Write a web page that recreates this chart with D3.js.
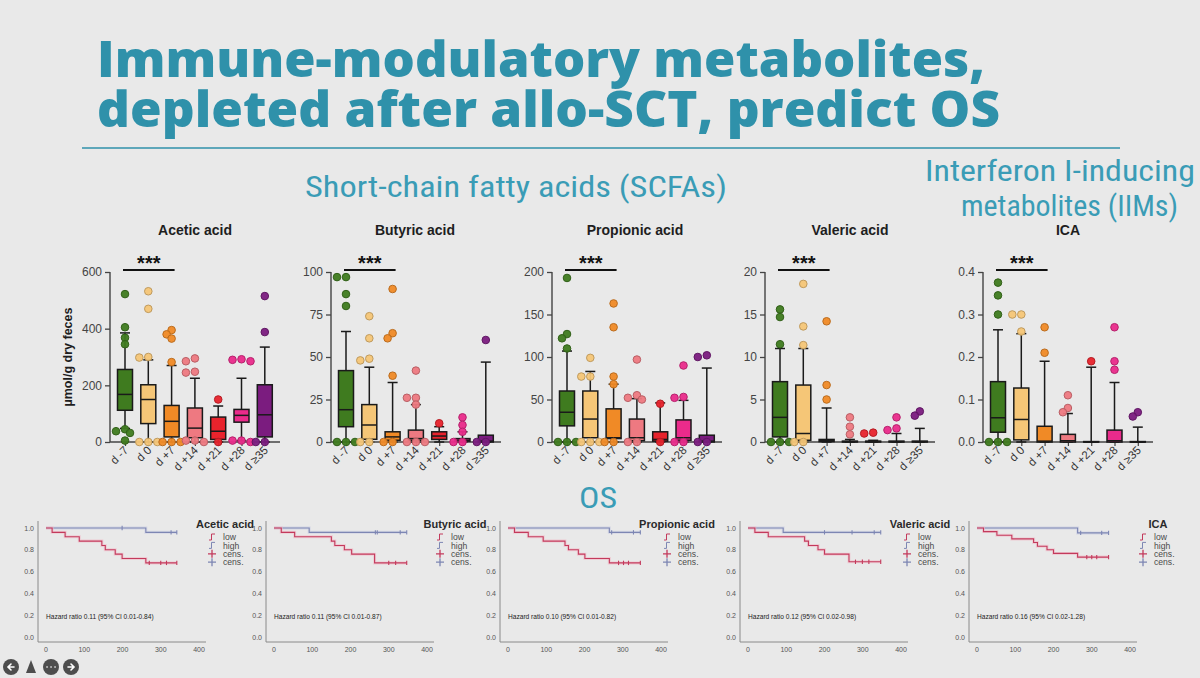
<!DOCTYPE html>
<html><head><meta charset="utf-8">
<script src="https://cdn.jsdelivr.net/npm/d3@7"></script>
<style>
body{margin:0;background:#e9e9e9;}
svg{display:block;font-family:Arial,'Liberation Sans',sans-serif;}
</style>
</head><body><svg id="c" width="1200" height="678"></svg>
<script>
// ---------- data ----------
const categories = ["d -7","d 0","d +7","d +14","d +21","d +28","d \u226535"];
const catColors = ["#3f7b1f","#f5c677","#f08a26","#ee7981","#e8232c","#ea2b8b","#7b1c7f"];
const metabolites = ["Acetic acid","Butyric acid","Propionic acid","Valeric acid","ICA"];
const yMaxes = [600,100,200,20,0.4];
const yTickVals = [[0,200,400,600],[0,25,50,75,100],[0,50,100,150,200],[0,5,10,15,20],[0,0.1,0.2,0.3,0.4]];
const yTickFormats = ["d","d","d","d",".1f"];

// box stats per category: [whiskerLow, q1, median, q3, whiskerHigh]
const aceticBoxes = [[48,112,168,256,385],[0,65,150,202,290],[0,18,73,129,270],[0,15,49,120,225],[0,9,38,88,127],[5,70,94,115,225],[0,18,96,202,335]];
const butyricBoxes = [[0,9,19,42,65],[0,1.6,10,22,44],[0,1,3,6,35],[0,1,2,7,22],[0,1.5,3.5,6,9],[0,0.5,1,2,6],[0,0,0.5,4,47]];
const propionicBoxes = [[0,19,35,60,107],[0,5,27,60,83],[0,4,5,39,68],[0,1.5,5,27,51],[0,1,3,12,46],[0,2,5,26,49],[0,0,1,8,87]];
const valericBoxes = [[0,0.6,2.9,7.1,11],[0,0.2,1,6.7,11],[0,0.05,0.2,0.3,4],[0,0,0.05,0.1,0.3],[0,0,0.05,0.1,0.2],[0,0,0.05,0.1,1.0],[0,0,0.05,0.1,1.6]];
const icaBoxes = [[0,0.023,0.057,0.142,0.264],[0,0.005,0.053,0.127,0.255],[0,0,0.002,0.037,0.19],[0,0,0.003,0.018,0.067],[0,0,0,0.001,0.176],[0,0,0.003,0.028,0.14],[0,0,0,0.001,0.035]];

// individual points drawn per category
const aceticPts = [[522,405,368,345,45,38,32,5],[532,470,300,298,0,0,0],[395,380,365,282,0,0,0],[295,285,248,245,5,5,0],[150,0],[290,285,292,5,5,0],[515,388,0,0]];
const butyricPts = [[97,97,87,80,0,0,0],[74,61,49,48,0,0],[90,64,61,39,0,0],[42,26,26,22,0,0,0],[11],[14.5,10,6,0,0],[60,0,0]];
const propionicPts = [[193,127,122,110,0,0,0],[99,77,77,0,0,0],[163,135,77,68,0,0],[97,55,52,50,0,0],[45,0],[90,53,52,0,0],[100,102,0,0]];
const valericPts = [[15.6,14.7,11.5,0,0,0],[18.6,13.6,11.4,0,0],[14.2,6.7,5],[2.9,1.8,0.9],[1.1,1.0],[2.9,1.6,1.4],[3.1,3.6]];
const icaPts = [[0.375,0.345,0.3,0,0,0],[0.3,0.3,0.26],[0.27,0.21],[0.11,0.08,0.07],[0.19],[0.27,0.19,0.17],[0.06,0.07]];

const allBoxes = [aceticBoxes,butyricBoxes,propionicBoxes,valericBoxes,icaBoxes];
const allPts = [aceticPts,butyricPts,propionicPts,valericPts,icaPts];

// Kaplan-Meier (OS): steps [time, survival after event], end time, censor times
const kmLowSteps = [
  [[16,0.96],[50,0.92],[87,0.88],[146,0.84],[155,0.80],[181,0.76],[199,0.72],[261,0.68]],
  [[19,0.96],[54,0.92],[150,0.88],[159,0.84],[184,0.80],[203,0.76],[263,0.68]],
  [[17,0.96],[53,0.92],[92,0.88],[149,0.84],[158,0.80],[184,0.76],[201,0.72],[265,0.68]],
  [[18,0.96],[53,0.92],[148,0.88],[158,0.84],[183,0.80],[200,0.76],[264,0.69]],
  [[17,0.967],[52,0.933],[91,0.90],[148,0.867],[158,0.833],[183,0.80],[200,0.767],[263,0.733]]
];
const kmLowEnd = [342,347,346,347,344];
const kmLowCens = [[270,300,315,342],[300,318,347],[289,302,315,346],[281,299,316,347],[287,300,313,344]];
const kmHighSteps = [[[261,0.96]],[[92,0.96]],[[265,0.96]],[[92,0.96]],[[263,0.955]]];
const kmHighEnd = [342,347,346,347,344];
const kmHighCens = [[199,327,342],[265,270,330,347],[271,328,346],[200,272,330,347],[271,326,344]];
const hazardTexts = [
  "Hazard ratio 0.11 (95% CI 0.01-0.84)",
  "Hazard ratio 0.11 (95% CI 0.01-0.87)",
  "Hazard ratio 0.10 (95% CI 0.01-0.82)",
  "Hazard ratio 0.12 (95% CI 0.02-0.98)",
  "Hazard ratio 0.16 (95% CI 0.02-1.28)"
];
const kmTitles = ["Acetic acid","Butyric acid","Propionic acid","Valeric acid","ICA"];
const legendLabels = ["low","high","cens.","cens."];
const kmXTicks = [0,100,200,300,400];
const kmYTicks = [0,0.2,0.4,0.6,0.8,1.0];

// ---------- layout ----------
const svg = d3.select("#c");
const teal = "#2f91aa", tealLight = "#3a9cb6";
svg.append("rect").attr("width",1200).attr("height",678).attr("fill","#e9e9e9");

// title
const tf = "'Open Sans','DejaVu Sans',sans-serif";
svg.append("text").attr("x",97).attr("y",77).attr("font-family",tf).attr("font-weight",800)
  .attr("font-size",50).attr("fill",teal).attr("textLength",888).attr("lengthAdjust","spacingAndGlyphs")
  .text("Immune-modulatory metabolites,");
svg.append("text").attr("x",97).attr("y",127).attr("font-family",tf).attr("font-weight",800)
  .attr("font-size",50).attr("fill",teal).attr("textLength",903).attr("lengthAdjust","spacingAndGlyphs")
  .text("depleted after allo-SCT, predict OS");
svg.append("line").attr("x1",82).attr("x2",1120).attr("y1",148).attr("y2",148)
  .attr("stroke",teal).attr("stroke-width",1.5);

const nf = "'Liberation Sans Narrow','Roboto Condensed',Roboto,sans-serif";
function sub(x,y,len,txt,size){
  svg.append("text").attr("x",x).attr("y",y).attr("font-family",nf).attr("font-size",size||29)
    .attr("fill",tealLight).attr("textLength",len).attr("lengthAdjust","spacingAndGlyphs").text(txt);
}
sub(305,197,422,"Short-chain fatty acids (SCFAs)");
sub(925,181,270,"Interferon I-inducing");
sub(961,216,217,"metabolites (IIMs)");
sub(579,508,38,"OS");

// ---------- box plots ----------
const axisXs = [110,331,552,765,983];
const titleXs = [195,415,635,850,1068];
const yTop = 272, yBot = 442;

function swarm(vals, y, cx, r){
  const placed=[];
  const cands=[0,-5,5,-9,9,-12,12];
  return vals.slice().sort((a,b)=>b-a).map(v=>{
    const py=y(v);
    let best=cands[cands.length-1];
    for(const o of cands){
      if(placed.every(p=>Math.hypot(p.x-o,p.y-py)>=r*1.55)){best=o;break;}
    }
    placed.push({x:best,y:py});
    return {v,x:cx+best,y:py};
  });
}

metabolites.forEach((m,mi)=>{
  const ax = axisXs[mi];
  const g = svg.append("g");
  const x = d3.scalePoint().domain(categories).range([ax+15, ax+15+6*23.3]);
  const y = d3.scaleLinear().domain([0,yMaxes[mi]]).range([yBot,yTop]);

  g.append("text").attr("x",titleXs[mi]).attr("y",235).attr("text-anchor","middle")
    .attr("font-weight","bold").attr("font-size",14).attr("fill","#1e1e1e").text(m);

  const ya = g.append("g").attr("transform",`translate(${ax},0)`)
    .call(d3.axisLeft(y).tickValues(yTickVals[mi]).tickFormat(d3.format(yTickFormats[mi])).tickSize(5).tickPadding(3));
  ya.select(".domain").remove();
  ya.selectAll("line").attr("stroke","#444").attr("stroke-width",1.3);
  ya.selectAll("text").attr("font-size",12).attr("fill","#444").attr("font-family","Arial,'Liberation Sans',sans-serif");
  g.append("line").attr("x1",ax).attr("x2",ax).attr("y1",yTop).attr("y2",yBot).attr("stroke","#444").attr("stroke-width",1.4);
  g.append("line").attr("x1",ax).attr("x2",ax+170).attr("y1",yBot).attr("y2",yBot).attr("stroke","#444").attr("stroke-width",1.4);
  const xa = g.append("g").attr("transform",`translate(0,${yBot})`).call(d3.axisBottom(x).tickSize(4).tickFormat(""));
  xa.select(".domain").remove();
  xa.selectAll("line").attr("stroke","#444").attr("stroke-width",1.2);
  categories.forEach(c=>{
    g.append("text").attr("transform",`translate(${x(c)+4},${yBot+9}) rotate(-45)`)
      .attr("text-anchor","end").attr("font-size",11.5).attr("fill","#333").text(c);
  });

  if(mi===0){
    g.append("text").attr("transform",`translate(72,${(yTop+yBot)/2}) rotate(-90)`).attr("text-anchor","middle")
      .attr("font-weight","bold").attr("font-size",12.5).attr("fill","#1e1e1e").text("\u00b5mol/g dry feces");
  }

  const x0 = x(categories[0])-2, x1 = x(categories[2])+3;
  g.append("line").attr("x1",x0).attr("x2",x1).attr("y1",270).attr("y2",270).attr("stroke","#111").attr("stroke-width",2.2);
  g.append("text").attr("x",(x0+x1)/2).attr("y",270).attr("text-anchor","middle").attr("font-weight","bold")
    .attr("font-size",20).attr("fill","#111").text("***");

  const bw = 15, cw = 10;
  allBoxes[mi].forEach((b,ci)=>{
    const cx = x(categories[ci]);
    const [wl,q1,md,q3,wh] = b;
    g.append("line").attr("x1",cx).attr("x2",cx).attr("y1",y(wl)).attr("y2",y(wh)).attr("stroke","#1a1a1a").attr("stroke-width",1.5);
    g.append("line").attr("x1",cx-cw/2).attr("x2",cx+cw/2).attr("y1",y(wh)).attr("y2",y(wh)).attr("stroke","#1a1a1a").attr("stroke-width",1.5);
    g.append("line").attr("x1",cx-cw/2).attr("x2",cx+cw/2).attr("y1",y(wl)).attr("y2",y(wl)).attr("stroke","#1a1a1a").attr("stroke-width",1.5);
    g.append("rect").attr("x",cx-bw/2).attr("width",bw).attr("y",y(q3)).attr("height",Math.max(0.5,y(q1)-y(q3)))
      .attr("fill",catColors[ci]).attr("stroke","#1a1a1a").attr("stroke-width",1.5);
    g.append("line").attr("x1",cx-bw/2).attr("x2",cx+bw/2).attr("y1",y(md)).attr("y2",y(md)).attr("stroke","#1a1a1a").attr("stroke-width",1.5);
  });
  allPts[mi].forEach((pts,ci)=>{
    const cx = x(categories[ci]);
    const col = catColors[ci];
    swarm(pts,y,cx,3.8).forEach(p=>{
      g.append("circle").attr("cx",p.x).attr("cy",p.y).attr("r",3.8).attr("fill",col)
        .attr("stroke",d3.color(col).darker(0.7)).attr("stroke-width",1).attr("fill-opacity",0.95);
    });
  });
});

// ---------- Kaplan-Meier panels ----------
const kmX0s = [46,274,508,748,977];
const kmTitleXs = [225,455,677,920,1158];
const kmLegX = [212,440,667,907,1143];
const lowCol = "#c33a5c", highCol = "#7d86b3";

function survAt(steps,t){let s=1;steps.forEach(([tt,v])=>{if(tt<=t)s=v;});return s;}

kmTitles.forEach((tt,ki)=>{
  const g = svg.append("g");
  const x0 = kmX0s[ki];
  const x = d3.scaleLinear().domain([0,400]).range([x0,x0+153]);
  const y = d3.scaleLinear().domain([0,1]).range([637,528]);
  const axX = x0-8;
  g.append("line").attr("x1",axX).attr("x2",axX).attr("y1",521).attr("y2",642).attr("stroke","#8a8a8a").attr("stroke-width",1);
  g.append("line").attr("x1",axX).attr("x2",x0+160).attr("y1",642).attr("y2",642).attr("stroke","#8a8a8a").attr("stroke-width",1);
  kmYTicks.forEach(v=>{
    g.append("text").attr("x",axX-4).attr("y",y(v)+2.5).attr("text-anchor","end").attr("font-size",7).attr("fill","#555").text(d3.format(".1f")(v));
  });
  kmXTicks.forEach(v=>{
    g.append("text").attr("x",x(v)).attr("y",652).attr("text-anchor","middle").attr("font-size",7).attr("fill","#555").text(v);
  });
  g.append("text").attr("x",x0).attr("y",619).attr("font-size",6.6).attr("fill","#222").text(hazardTexts[ki]);

  const line = d3.line().x(d=>x(d[0])).y(d=>y(d[1])).curve(d3.curveStepAfter);
  function drawCurve(steps,end,cens,col,halo){
    const pts = [[0,1],...steps,[end,steps[steps.length-1][1]]];
    g.append("path").attr("d",line(pts)).attr("fill","none").attr("stroke",halo).attr("stroke-width",3).attr("stroke-opacity",0.6);
    g.append("path").attr("d",line(pts)).attr("fill","none").attr("stroke",col).attr("stroke-width",1.1);
    cens.forEach(t=>{
      const s = survAt(steps,t);
      g.append("line").attr("x1",x(t)).attr("x2",x(t)).attr("y1",y(s)-2.2).attr("y2",y(s)+2.2).attr("stroke",col).attr("stroke-width",1.1);
    });
  }
  drawCurve(kmHighSteps[ki],kmHighEnd[ki],kmHighCens[ki],highCol,"#c9cde2");
  drawCurve(kmLowSteps[ki],kmLowEnd[ki],kmLowCens[ki],lowCol,"#f1b9c6");

  g.append("text").attr("x",kmTitleXs[ki]).attr("y",528).attr("text-anchor","middle").attr("font-weight","bold")
    .attr("font-size",11).attr("fill","#2a2a2a").text(tt);
  const lx = kmLegX[ki];
  const legCols = [lowCol,highCol,lowCol,highCol];
  legendLabels.forEach((lab,li)=>{
    const cy = 537+li*8.4;
    if(li<2){
      g.append("path").attr("d",`M${lx-3},${cy+3} h2.5 v-6 h3.5`).attr("fill","none").attr("stroke",legCols[li]).attr("stroke-width",1);
    } else {
      g.append("path").attr("d",`M${lx-4},${cy} h8 M${lx},${cy-4} v8`).attr("fill","none").attr("stroke",legCols[li]).attr("stroke-width",1.3);
    }
    g.append("text").attr("x",lx+11).attr("y",cy+3.2).attr("font-size",8.6).attr("fill","#4a4a4a")
      .attr("transform",`translate(0,0)`).text(lab);
  });
});

// ---------- slide nav icons ----------
const nav = svg.append("g");
[[11,"M14,667 h-6 M11,664 l-3,3 l3,3"],[51,"M47,667 h0.1 M51,667 h0.1 M55,667 h0.1"],[71,"M68,667 h6 M71,664 l3,3 l-3,3"]].forEach(([cx,d])=>{
  nav.append("circle").attr("cx",cx).attr("cy",667).attr("r",8).attr("fill","#4d4d4d");
  nav.append("path").attr("d",d).attr("stroke","#fff").attr("stroke-width",1.6).attr("fill","none").attr("stroke-linecap","round");
});
nav.append("path").attr("d","M31,660 l-5,13 h10 z").attr("fill","#4d4d4d");
</script></body></html>
